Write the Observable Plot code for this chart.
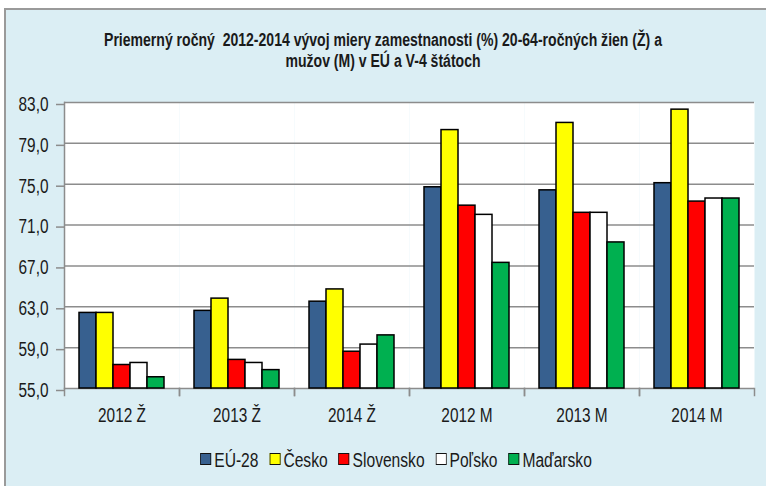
<!DOCTYPE html>
<html>
<head>
<meta charset="utf-8">
<script src="https://cdn.jsdelivr.net/npm/d3@7"></script>
<script src="https://cdn.jsdelivr.net/npm/@observablehq/plot@0.6"></script>
<style>
  html, body { margin: 0; padding: 0; background: #ffffff; }
  #wrap { position: relative; width: 766px; height: 486px; overflow: hidden; background: #ffffff; }
  #panel { position: absolute; left: 4px; top: 8px; right: -4px; bottom: -4px; background: #dbeef4;
           border-top: 2px solid #9a9a9a; border-left: 2px solid #9a9a9a; }
  #chart { position: absolute; left: 0; top: 0; }
  #title { position: absolute; left: 0; width: 766px; top: 30px; text-align: center;
           font-family: "Liberation Sans", Arial, sans-serif;
           font-weight: bold; font-size: 18px; line-height: 21px; color: #1a1a1a;
           transform: scaleX(0.78); transform-origin: 383px 0; white-space: nowrap; }
  #legend { position: absolute; left: 0; width: 792px; top: 449px; text-align: center;
            font-family: "Liberation Sans", Arial, sans-serif;
            font-size: 20px; color: #1a1a1a; white-space: nowrap;
            transform: scaleX(0.78); transform-origin: 396px 0; }
  #legend span.item { display: inline-block; margin: 0 7px; }
  #legend span.sw { display: inline-block; width: 12px; height: 10px; border: 1.5px solid #111;
                    margin-right: 4px; vertical-align: 2px; }
</style>
</head>
<body>
<div id="wrap">
  <div id="panel"></div>
  <div id="chart"></div>
  <div id="title">Priemerný ročný&nbsp; 2012-2014 vývoj miery zamestnanosti (%) 20-64-ročných žien (Ž) a<br>mužov (M) v EÚ a V-4 štátoch</div>
  <div id="legend"></div>
</div>
<script>
const categories = ["2012 Ž", "2013 Ž", "2014 Ž", "2012 M", "2013 M", "2014 M"];
const series = ["EÚ-28", "Česko", "Slovensko", "Poľsko", "Maďarsko"];
const euValues = [62.4, 62.6, 63.5, 74.7, 74.4, 75.1];
const czValues = [62.4, 63.8, 64.7, 80.3, 81.0, 82.3];
const skValues = [57.3, 57.8, 58.6, 72.9, 72.2, 73.3];
const plValues = [57.5, 57.5, 59.3, 72.0, 72.2, 73.6];
const huValues = [56.1, 56.8, 60.2, 67.3, 69.3, 73.6];
const yTicks = [55, 59, 63, 67, 71, 75, 79, 83];
const colors = ["#37608f", "#ffff00", "#ff0000", "#ffffff", "#00b050"];

const seriesValues = [euValues, czValues, skValues, plValues, huValues];
const data = [];
categories.forEach((cat, i) => {
  series.forEach((s, j) => data.push({cat, series: s, value: seriesValues[j][i]}));
});

const W = 766, H = 486, mt = 102, mb = 98, ml = 63, mr = 12;
const plotH = H - mt - mb;
const font = '"Liberation Sans", Arial, sans-serif';
const gridColor = "#8c8c8c";
const textSqueeze = 0.77;

const chart = Plot.plot({
  width: W,
  height: H,
  marginTop: mt,
  marginBottom: mb,
  marginLeft: ml,
  marginRight: mr,
  style: {background: "transparent", fontFamily: font, fontSize: "20px", color: "#1a1a1a"},
  y: {domain: [yTicks[0], yTicks[yTicks.length - 1]]},
  fx: {domain: categories, padding: 0, label: null},
  x: {domain: series, paddingInner: 0, paddingOuter: 0.8, axis: null},
  color: {domain: series, range: colors},
  marks: [
    Plot.frame({fill: "white", stroke: null}),
    Plot.gridY(yTicks, {stroke: gridColor, strokeOpacity: 1, strokeWidth: 1.5}),
    Plot.barY(data, {fx: "cat", x: "series", y1: yTicks[0], y2: "value", fill: "series", stroke: "#000", strokeWidth: 1.5}),
    Plot.axisY(yTicks, {tickFormat: d => d.toFixed(1).replace(".", ","), tickSize: 8, tickPadding: 8, dy: 2,
      stroke: gridColor, strokeWidth: 1.5, fill: "#1a1a1a", label: null, fontSize: 20}),
    Plot.axisFx({anchor: "bottom", tickSize: 0, tickPadding: 19, label: null, fontSize: 20, fill: "#1a1a1a"}),
    Plot.frame({anchor: "left", stroke: gridColor, strokeWidth: 1.5, insetTop: plotH, insetBottom: -7}),
    Plot.frame({anchor: "right", stroke: gridColor, strokeWidth: 1.5, insetTop: plotH, insetBottom: -7}),
    Plot.frame({anchor: "left", facet: "super", stroke: gridColor, strokeWidth: 1.5})
  ]
});
// narrow the axis lettering (Arial Narrow look) while keeping each label's anchor point
chart.querySelectorAll("text").forEach(t => {
  const tr = t.getAttribute("transform") || "";
  t.setAttribute("transform", tr + ` scale(${textSqueeze},1)`);
});
document.getElementById("chart").appendChild(chart);

const legend = document.getElementById("legend");
series.forEach((s, i) => {
  const item = document.createElement("span");
  item.className = "item";
  const sw = document.createElement("span");
  sw.className = "sw";
  sw.style.background = colors[i];
  item.appendChild(sw);
  item.appendChild(document.createTextNode(s));
  legend.appendChild(item);
});
</script>
</body>
</html>
